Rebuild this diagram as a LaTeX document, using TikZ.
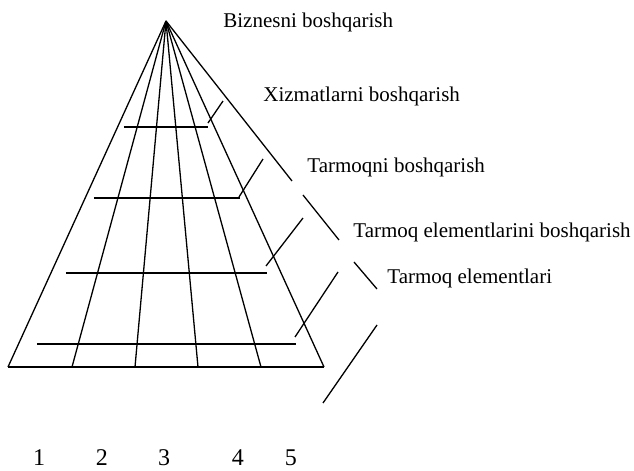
\documentclass[tikz,border=0pt]{standalone}
\usepackage{fontspec}
\setmainfont{Liberation Serif}
\usetikzlibrary{positioning}

\begin{document}
\begin{tikzpicture}[
    x=0.5pt, y=-0.5pt,
    line/.style={line width=0.65pt},
    level/.style={font=\fontsize{10.5}{12}\selectfont, anchor=base west, inner sep=0pt},
    num/.style={font=\fontsize{12}{14}\selectfont, anchor=base, inner sep=0pt}
]
\useasboundingbox (0,0) rectangle (634,471);

% apex and base of the pyramid
\coordinate (apex) at (166,21);
\foreach \i/\x in {0/8,1/72,2/135,3/198,4/261,5/324}
    \coordinate (b\i) at (\x,367);

% columns
\foreach \i in {0,...,5}
    \draw [line] (apex) -- (b\i);
\draw [line] (b0) -- (b5);

% levels
\draw [line] (124,127) -- (208,127);
\draw [line] (94,198) -- (240,198);
\draw [line] (66,273) -- (267,273);
\draw [line] (37,344) -- (296,344);

% broken outer edge
\coordinate (e1) at (292,181);
\coordinate (e2) at (303,195);
\coordinate (e3) at (339,240);
\coordinate (e4) at (354,262);
\coordinate (e5) at (377,289);
\draw [line] (apex) -- (e1);
\draw [line] (e2) -- (e3);
\draw [line] (e4) -- (e5);

% brackets
\foreach \a/\b in {{(223,101)}/{(208,123)},{(263,159)}/{(239,197)},{(303,218)}/{(266,266)},{(338,272)}/{(295,337)},{(377,325)}/{(323,403)}}
    \draw [line] \a -- \b;

% level names
\node (biz) [level] at (223,27) {Biznesni boshqarish};
\node (xiz) [level] at (263,102) {Xizmatlarni boshqarish};
\node (tar) [level] at (307,173) {Tarmoqni boshqarish};
\node (elb) [level] at (353,238) {Tarmoq elementlarini boshqarish};
\node (ele) [level] at (387,284) {Tarmoq elementlari};

% column numbers
\foreach \n/\x in {1/39,2/102,3/164,4/238,5/291}
    \node (n\n) [num] at (\x,466) {\n};

\end{tikzpicture}
\end{document}
